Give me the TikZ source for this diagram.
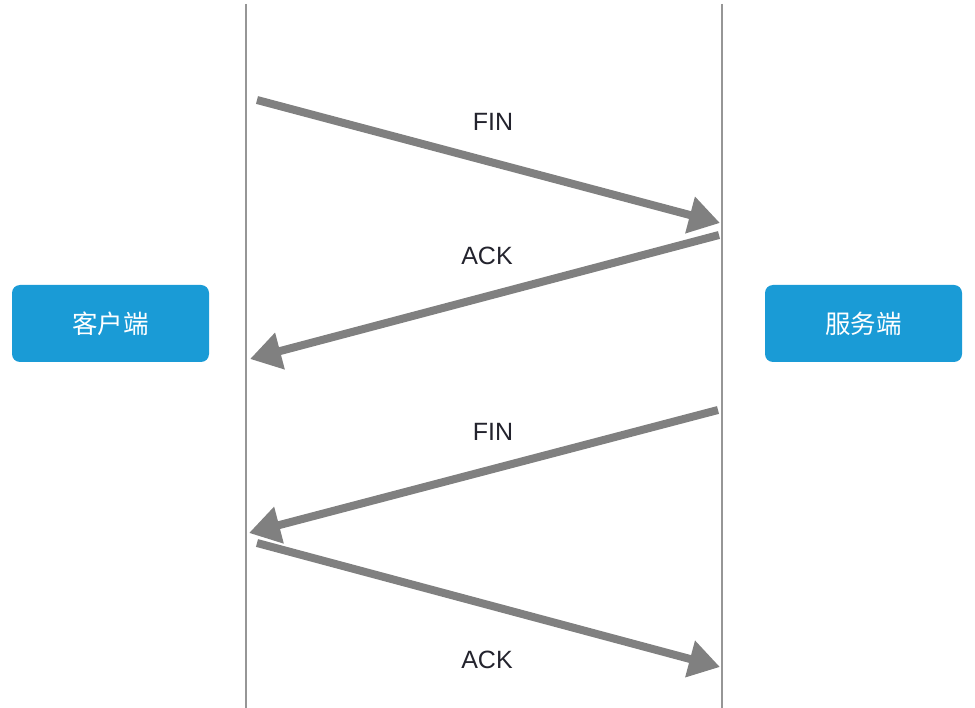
\documentclass[tikz,border=0pt]{standalone}
\usepackage{fontspec}
\setmainfont{Liberation Sans}
\newfontfamily\cjk{Noto Sans CJK SC}
\usepackage{tikz}
\usetikzlibrary{arrows.meta}
\definecolor{MyBoxBlue}{RGB}{26,155,214}
\definecolor{MyArrowGray}{RGB}{128,128,128}
\definecolor{MyLineGray}{RGB}{150,150,150}
\definecolor{MyTextDark}{RGB}{35,35,45}
\tikzset{
    endpoint/.style={rectangle, rounded corners=8pt, fill=MyBoxBlue, text=white,
        minimum width=197pt, minimum height=77pt, font=\cjk\fontsize{25.5}{30}\selectfont},
    lifeline/.style={draw=MyLineGray, line width=1.6pt},
    msg/.style={draw=MyArrowGray, line width=8pt, -{Triangle[length=31pt,width=36pt]}},
    msglabel/.style={text=MyTextDark, font=\fontsize{25}{30}\selectfont}
}

\begin{document}
\begin{tikzpicture}[x=1pt, y=-1pt]
    \useasboundingbox (0,0) rectangle (975,708);
    % lifelines
    \coordinate (ctop) at (246,4);
    \coordinate (cbot) at (246,708);
    \coordinate (stop) at (722,4);
    \coordinate (sbot) at (722,708);
    \draw[lifeline] (ctop) -- (cbot);
    \draw[lifeline] (stop) -- (sbot);
    \node[endpoint] (client) at (110.5,323.5) {客户端};
    \node[endpoint] (server) at (863.5,323.5) {服务端};
    % messages
    \coordinate (fin1s) at (257,100);
    \coordinate (fin1e) at (720,223);
    \coordinate (ack1s) at (719,235);
    \coordinate (ack1e) at (250,359);
    \coordinate (fin2s) at (718,410);
    \coordinate (fin2e) at (249,533);
    \coordinate (ack2s) at (257,543);
    \coordinate (ack2e) at (720,667);
    \draw[msg] (fin1s) -- (fin1e);
    \draw[msg] (ack1s) -- (ack1e);
    \draw[msg] (fin2s) -- (fin2e);
    \draw[msg] (ack2s) -- (ack2e);
    \node[msglabel] (fin1) at (493,122) {FIN};
    \node[msglabel] (ack1) at (487,256) {ACK};
    \node[msglabel] (fin2) at (493,432) {FIN};
    \node[msglabel] (ack2) at (487,660) {ACK};
\end{tikzpicture}
\end{document}
